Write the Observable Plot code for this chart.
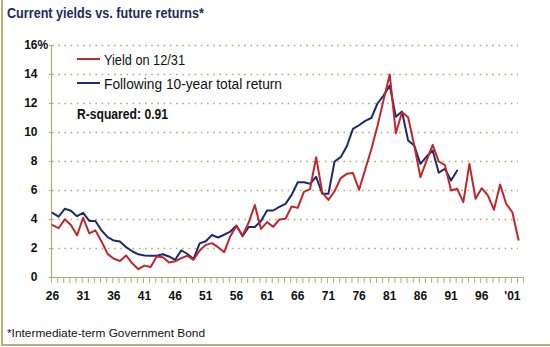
<!DOCTYPE html>
<html><head><meta charset="utf-8">
<script src="https://cdn.jsdelivr.net/npm/d3@7"></script>
<script src="https://cdn.jsdelivr.net/npm/@observablehq/plot@0.6"></script>
<style>
body{margin:0;background:#fff;}
#wrap{position:relative;width:550px;height:347px;overflow:hidden;background:#fff;font-family:'Liberation Sans',Arial,sans-serif;}
#border{position:absolute;left:1px;top:0;width:549px;height:346px;border-left:2px solid #b5b378;border-bottom:2px solid #b5b378;box-sizing:border-box;}
.fit{position:absolute;white-space:nowrap;line-height:1;transform-origin:0 0;}
#title{left:7px;top:5px;font-size:15.5px;font-weight:bold;color:#1c2a5c;}
#chart{position:absolute;left:0;top:25px;}
#note{left:7px;top:328px;font-size:11px;color:#111;}
.leg{font-size:14px;color:#111;}
.sw{position:absolute;height:2px;width:23px;}
</style></head>
<body>
<div id="wrap">
  <div id="border"></div>
  <div id="title" class="fit" data-w="197">Current yields vs. future returns*</div>
  <div id="chart"></div>
  <div class="sw" style="left:77px;top:58px;background:#c0272d"></div>
  <div class="fit leg" data-w="81" style="left:104px;top:53px;">Yield on 12/31</div>
  <div class="sw" style="left:77px;top:82px;background:#1e2a6b"></div>
  <div class="fit leg" data-w="178" style="left:104px;top:77px;">Following 10-year total return</div>
  <div class="fit leg" data-w="91" style="left:77px;top:107px;font-weight:bold;">R-squared: 0.91</div>
  <div id="note" class="fit" data-w="198">*Intermediate-term Government Bond</div>
</div>
<script>
// Yield on 12/31 (intermediate-term government bond), 1926–2002
const yieldStart = 1926;
const yieldVals = [
  3.61, 3.40, 4.01, 3.62, 2.91, 4.12, 3.04, 3.25, 2.49, 1.63,
  1.29, 1.14, 1.52, 0.98, 0.57, 0.82, 0.72, 1.45, 1.40, 1.03,
  1.12, 1.34, 1.50, 1.22, 1.86, 2.25, 2.37, 2.09, 1.75, 2.85,
  3.55, 2.90, 3.80, 5.00, 3.35, 3.82, 3.50, 4.00, 4.05, 4.90,
  4.80, 5.90, 6.10, 8.29, 5.85, 5.35, 5.95, 6.85, 7.15, 7.20,
  6.05, 7.45, 8.85, 10.45, 12.25, 14.00, 9.95, 11.40, 11.05, 9.10,
  6.92, 8.05, 9.15, 8.00, 7.75, 6.00, 6.12, 5.20, 7.84, 5.43,
  6.16, 5.66, 4.67, 6.41, 5.08, 4.50, 2.60
];
// Following 10-year total return, 1926–1992
const returnStart = 1926;
const returnVals = [
  4.46, 4.20, 4.74, 4.60, 4.23, 4.46, 3.90, 3.90, 3.24, 2.78,
  2.55, 2.48, 2.09, 1.81, 1.60, 1.52, 1.50, 1.50, 1.60, 1.45,
  1.22, 1.88, 1.62, 1.28, 2.35, 2.50, 2.93, 2.76, 2.95, 3.17,
  3.59, 2.85, 3.48, 3.48, 3.90, 4.62, 4.62, 4.87, 5.08, 5.70,
  6.57, 6.57, 6.46, 6.95, 5.77, 5.77, 8.00, 8.30, 9.05, 10.25,
  10.50, 10.80, 11.00, 12.00, 12.55, 13.24, 11.08, 11.45, 9.45, 9.10,
  7.84, 8.34, 8.76, 7.23, 7.50, 6.69, 7.38
];
const yTicks = [0, 2, 4, 6, 8, 10, 12, 14, 16];
const gridVals = [2, 4, 6, 8, 10, 12, 14, 16];
const xLabelYears = [1926, 1931, 1936, 1941, 1946, 1951, 1956, 1961, 1966, 1971, 1976, 1981, 1986, 1991, 1996, 2001];
const xLabels = ["26", "31", "36", "41", "46", "51", "56", "61", "66", "71", "76", "81", "86", "91", "96", "'01"];
const xMinorYears = d3.range(1926, 2004);

const yieldData = yieldVals.map((v, i) => ({year: yieldStart + i, value: v}));
const returnData = returnVals.map((v, i) => ({year: returnStart + i, value: v}));

const olive = "#aeac72";
const font = "'Liberation Sans',Arial,sans-serif";

const plot = Plot.plot({
  width: 550, height: 290,
  marginLeft: 52, marginRight: 32, marginTop: 20, marginBottom: 38,
  x: {domain: [1926, 2002], label: null},
  y: {domain: [0, 16], label: null},
  style: {fontFamily: font, background: "transparent", overflow: "visible"},
  marks: [
    Plot.ruleY(gridVals, {x1: 1926, x2: 2002, stroke: olive, strokeWidth: 1.5, strokeDasharray: "1.6,4.6"}),
    Plot.axisY({ticks: yTicks, label: null, tickSize: 3, tickPadding: 12, stroke: olive, fill: "#111", fontSize: 12, fontWeight: "bold", tickFormat: d => String(d)}),
    Plot.text([16], {x: () => 1926, y: d => d, text: () => "%", textAnchor: "start", dx: -15, fontSize: 12, fontWeight: "bold", fill: "#111"}),
    Plot.ruleX([1926], {y1: 0, y2: 16, stroke: olive, strokeWidth: 1.2, dx: -1}),
    Plot.ruleY([0], {x1: 1926, x2: 2003, dx: -1, stroke: olive, strokeWidth: 1.2}),
    Plot.axisX({ticks: xMinorYears, label: null, tickSize: 6, tickFormat: () => "", stroke: olive, dx: -1}),
    Plot.axisX({ticks: xLabelYears, label: null, tickSize: 0, tickPadding: 14, fontSize: 12, fontWeight: "bold", fill: "#111", tickFormat: d => xLabels[xLabelYears.indexOf(d)]}),
    Plot.line(returnData, {x: "year", y: "value", stroke: "#1e2a6b", strokeWidth: 2}),
    Plot.line(yieldData, {x: "year", y: "value", stroke: "#c0272d", strokeWidth: 2})
  ]
});
document.getElementById("chart").appendChild(plot);

// condense HTML texts to the reference's narrow type widths
document.querySelectorAll(".fit").forEach(el => {
  const w = el.getBoundingClientRect().width;
  const target = +el.dataset.w;
  if (w > 0) el.style.transform = `scaleX(${target / w})`;
});
</script>
</body></html>
